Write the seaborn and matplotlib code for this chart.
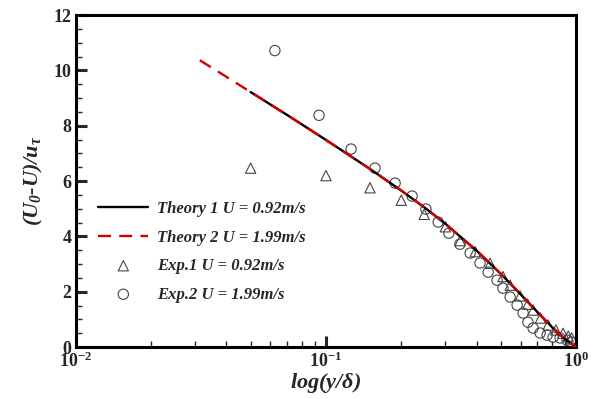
import numpy as np
import pandas as pd
import matplotlib
matplotlib.use("Agg")
import matplotlib.pyplot as plt
import matplotlib.transforms as mtransforms
from matplotlib.ticker import FixedLocator, FixedFormatter, MultipleLocator, LogLocator, NullFormatter
import seaborn as sns

# theory curves
theory_x = [0.0313, 0.04, 0.05, 0.07, 0.10, 0.15, 0.20, 0.25, 0.30, 0.40,
            0.50, 0.60, 0.70, 0.80, 0.90, 1.00]
theory_y = [10.37, 9.77, 9.22, 8.39, 7.49, 6.44, 5.66, 5.02, 4.46, 3.49,
            2.65, 1.91, 1.27, 0.73, 0.30, 0.00]
theory1_start = 2  # Theory 1 starts at y/delta = 0.05

# Exp.1 U = 0.92 m/s (triangles)
exp1_x = [0.050, 0.100, 0.150, 0.200, 0.247, 0.300, 0.344, 0.395, 0.453, 0.510,
          0.545, 0.597, 0.640, 0.673, 0.720, 0.773, 0.830, 0.887, 0.930, 0.960, 1.000]
exp1_y = [6.47, 6.20, 5.76, 5.31, 4.80, 4.35, 3.85, 3.45, 3.03, 2.55,
          2.24, 1.85, 1.55, 1.34, 1.05, 0.80, 0.62, 0.50, 0.40, 0.33, 0.02]

# Exp.2 U = 1.99 m/s (circles)
exp2_x = [0.0625, 0.0938, 0.126, 0.157, 0.189, 0.221, 0.251, 0.281, 0.310, 0.343,
          0.377, 0.413, 0.445, 0.483, 0.510, 0.545, 0.581, 0.614, 0.642, 0.673,
          0.718, 0.766, 0.809, 0.863, 0.920, 0.960]
exp2_y = [10.72, 8.38, 7.16, 6.47, 5.93, 5.46, 4.99, 4.52, 4.12, 3.72,
          3.40, 3.04, 2.71, 2.42, 2.13, 1.81, 1.52, 1.23, 0.90, 0.69,
          0.51, 0.43, 0.36, 0.33, 0.25, 0.18]

labels = ["Theory 1 U = 0.92m/s", "Theory 2 U = 1.99m/s",
          "Exp.1 U = 0.92m/s", "Exp.2 U = 1.99m/s"]

sns.set_style("ticks")
plt.rcParams["font.family"] = ["Liberation Serif", "DejaVu Serif"]
plt.rcParams["mathtext.fontset"] = "custom"
plt.rcParams["mathtext.rm"] = "Liberation Serif:bold:italic"
plt.rcParams["mathtext.it"] = "Liberation Serif:bold:italic"
plt.rcParams["mathtext.bf"] = "Liberation Serif:bold"

fig = plt.figure(figsize=(5.97, 3.99), dpi=100)
ax = fig.add_axes([0.127, 0.130, 0.838, 0.832])

t1 = pd.DataFrame({"x": theory_x[theory1_start:], "y": theory_y[theory1_start:]})
t2 = pd.DataFrame({"x": theory_x, "y": theory_y})

sns.lineplot(data=t1, x="x", y="y", ax=ax, color="black", linewidth=1.7,
             sort=False, label=labels[0], zorder=3)
sns.lineplot(data=t2, x="x", y="y", ax=ax, color="#d40000", linewidth=1.7,
             linestyle=(0, (5.5, 3.5)), sort=False, label=labels[1], zorder=4)
sns.scatterplot(x=exp1_x, y=exp1_y, ax=ax, marker="^", s=55, color="#444444",
                facecolor="none", edgecolor="#444444", linewidth=0.8,
                label=labels[2], zorder=2)
sns.scatterplot(x=exp2_x, y=exp2_y, ax=ax, marker="o", s=55, color="#444444",
                facecolor="none", edgecolor="#444444", linewidth=0.8,
                label=labels[3], zorder=2)

ax.set_xscale("log")
ax.set_xlim(0.01, 1.0)
ax.set_ylim(0, 12)

ax.xaxis.set_major_locator(FixedLocator([0.01, 0.1, 1.0]))
ax.xaxis.set_major_formatter(FixedFormatter([r"$\mathbf{10^{-2}}$", r"$\mathbf{10^{-1}}$",
                                             r"$\mathbf{10^{0}}$"]))
ax.xaxis.set_minor_locator(LogLocator(base=10, subs=np.arange(2, 10)))
ax.xaxis.set_minor_formatter(NullFormatter())
ax.yaxis.set_major_locator(MultipleLocator(2))
ax.yaxis.set_minor_locator(MultipleLocator(0.5))

ax.tick_params(which="major", direction="in", length=8, width=2.2, labelsize=13, pad=3)
ax.tick_params(which="minor", direction="in", length=4.5, width=1.0)
for lab in ax.get_yticklabels():
    lab.set_fontweight("bold")

# the "0" sits a little above the axis so it clears the 10^-2 label
lift = mtransforms.ScaledTranslation(0, 4 / 72, fig.dpi_scale_trans)
ytl = ax.yaxis.get_majorticklabels()[0]
ytl.set_transform(ytl.get_transform() + lift)

for sp in ax.spines.values():
    sp.set_linewidth(2.2)
    sp.set_color("black")

ax.set_xlabel(r"$log(y/\delta)$", fontsize=16, labelpad=0)
ax.set_ylabel(r"$(U_0$-$U)/u_\tau$", fontsize=16, fontweight="bold",
              fontstyle="italic", labelpad=6)

leg = ax.legend(loc="upper left", bbox_to_anchor=(0.015, 0.485), frameon=False,
                handlelength=3.0, handletextpad=0.5, labelspacing=0.75,
                prop={"family": "Liberation Serif", "weight": "bold",
                      "style": "italic", "size": 12})

fig.savefig("out.png", dpi=100)
